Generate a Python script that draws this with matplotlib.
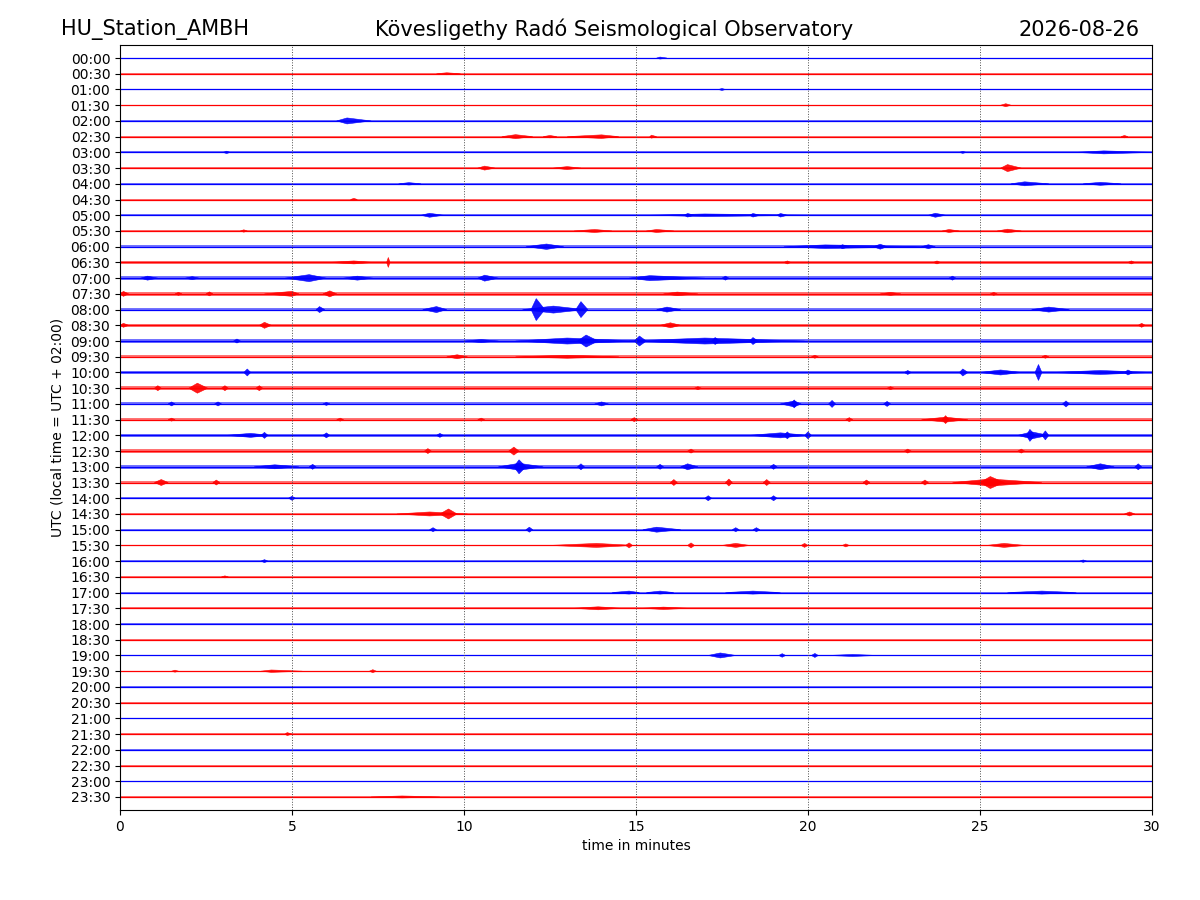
import numpy as np
import matplotlib
matplotlib.use("Agg")
import matplotlib.pyplot as plt

# half-hour rows of the helicorder, 00:00 .. 23:30 UTC
row_labels = ["%02d:%02d" % (h, m) for h in range(24) for m in (0, 30)]
row_colors = ["blue", "red"]

# background noise level per row (half amplitude, arbitrary units)
noise = [0.5, 0.5, 0.8, 0.6, 0.6, 0.8, 1.0, 1.0, 0.8, 0.8, 1.2, 1.2,
         1.5, 1.2, 1.8, 1.8, 1.8, 1.5, 1.8, 1.5, 1.5, 2.0, 1.5, 1.5,
         1.8, 1.8, 1.8, 1.8, 1.2, 1.0, 1.0, 0.8, 0.8, 1.0, 0.8, 0.8,
         0.6, 1.0, 0.6, 0.6, 0.8, 1.0, 0.6, 0.6, 0.8, 1.0, 0.6, 0.6]

# bursts: (row, start min, peak min, end min, half amplitude)
events = [
    (0, 15.6, 15.7, 15.9, 1.0),
    (1, 9.2, 9.5, 9.9, 1.0),
    (2, 17.4, 17.5, 17.6, 1.0),
    (3, 25.6, 25.75, 25.9, 1.5),
    (4, 6.3, 6.6, 7.3, 3.0),
    (5, 11.1, 11.5, 12.0, 2.0), (5, 12.3, 12.5, 12.7, 1.2), (5, 13.0, 14.0, 14.5, 1.8),
    (5, 15.4, 15.45, 15.6, 1.5), (5, 29.1, 29.2, 29.3, 1.2),
    (6, 3.0, 3.1, 3.2, 1.2), (6, 24.4, 24.5, 24.6, 1.0), (6, 27.8, 28.6, 30.0, 1.5),
    (7, 10.4, 10.6, 10.9, 2.0), (7, 12.6, 13.0, 13.4, 1.5), (7, 25.6, 25.8, 26.2, 3.5),
    (8, 8.1, 8.4, 8.75, 1.2), (8, 25.9, 26.3, 27.0, 2.0), (8, 28.0, 28.5, 29.1, 1.5),
    (9, 6.7, 6.8, 6.9, 1.2),
    (10, 8.75, 9.0, 9.4, 2.0), (10, 15.4, 17.0, 20.0, 1.3), (10, 16.4, 16.5, 16.7, 1.8),
    (10, 18.3, 18.4, 18.6, 1.8), (10, 19.1, 19.2, 19.4, 1.8), (10, 23.5, 23.7, 24.0, 2.0),
    (11, 3.5, 3.6, 3.7, 1.2), (11, 13.2, 13.8, 14.3, 1.5), (11, 15.3, 15.6, 16.1, 1.5),
    (11, 23.9, 24.1, 24.4, 1.5), (11, 25.5, 25.8, 26.2, 1.8),
    (12, 11.8, 12.4, 12.9, 2.7), (12, 19.3, 20.5, 23.5, 1.8), (12, 20.9, 21.0, 21.2, 2.0),
    (12, 21.9, 22.1, 22.3, 2.5), (12, 23.3, 23.5, 23.7, 2.0),
    (13, 6.1, 6.8, 7.35, 1.5), (13, 7.75, 7.8, 7.85, 5.0), (13, 19.3, 19.4, 19.5, 1.5),
    (13, 23.65, 23.75, 23.85, 1.5), (13, 29.3, 29.4, 29.5, 1.5),
    (14, 0.6, 0.8, 1.1, 2.0), (14, 1.9, 2.1, 2.3, 1.5), (14, 4.8, 5.5, 6.0, 3.5),
    (14, 6.5, 6.9, 7.35, 2.0), (14, 10.4, 10.6, 11.0, 3.0), (14, 14.8, 15.4, 17.0, 2.5),
    (14, 17.5, 17.6, 17.7, 2.0), (14, 24.1, 24.2, 24.3, 2.0),
    (15, 0.0, 0.1, 0.25, 2.5), (15, 1.6, 1.7, 1.8, 1.5), (15, 2.5, 2.6, 2.7, 2.0),
    (15, 4.2, 5.0, 5.2, 2.5), (15, 5.9, 6.1, 6.3, 3.0), (15, 15.8, 16.2, 16.8, 1.8),
    (15, 22.1, 22.4, 22.7, 1.5), (15, 25.3, 25.4, 25.5, 1.5),
    (16, 5.7, 5.8, 5.95, 3.0), (16, 8.8, 9.2, 9.5, 3.0), (16, 11.7, 12.6, 13.5, 3.5),
    (16, 11.95, 12.1, 12.35, 11.0), (16, 13.25, 13.4, 13.6, 8.0), (16, 15.6, 15.9, 16.3, 2.5),
    (16, 26.5, 27.0, 27.6, 2.5),
    (17, 0.0, 0.1, 0.25, 2.0), (17, 4.05, 4.2, 4.4, 3.0), (17, 15.7, 16.0, 16.3, 2.5),
    (17, 29.6, 29.7, 29.8, 2.0),
    (18, 3.3, 3.4, 3.5, 2.0), (18, 10.0, 10.5, 11.0, 1.5), (18, 11.5, 13.0, 15.1, 3.0),
    (18, 13.3, 13.55, 13.9, 6.0), (18, 14.8, 17.0, 19.9, 3.0), (18, 14.95, 15.1, 15.3, 5.0),
    (18, 17.2, 17.3, 17.45, 3.5), (18, 18.3, 18.4, 18.55, 3.5),
    (19, 9.5, 9.8, 10.1, 2.0), (19, 11.5, 13.0, 14.5, 1.5), (19, 20.1, 20.2, 20.3, 1.5),
    (19, 26.8, 26.9, 27.0, 1.5),
    (20, 3.6, 3.7, 3.8, 3.5), (20, 22.8, 22.9, 23.0, 2.0), (20, 24.4, 24.5, 24.65, 3.5),
    (20, 25.0, 25.6, 26.2, 2.5), (20, 26.6, 26.7, 26.8, 8.0), (20, 27.1, 28.5, 30.0, 2.0),
    (20, 29.2, 29.3, 29.45, 2.5),
    (21, 1.0, 1.1, 1.2, 2.5), (21, 2.0, 2.25, 2.55, 5.0), (21, 2.95, 3.05, 3.15, 2.5),
    (21, 3.95, 4.05, 4.15, 2.5), (21, 16.7, 16.8, 16.9, 1.5), (21, 22.3, 22.4, 22.5, 1.5),
    (22, 1.4, 1.5, 1.6, 2.0), (22, 2.75, 2.85, 2.95, 2.0), (22, 5.9, 6.0, 6.1, 1.5),
    (22, 13.8, 14.0, 14.2, 2.0), (22, 19.2, 19.6, 19.8, 3.0), (22, 19.5, 19.6, 19.7, 4.0),
    (22, 20.6, 20.7, 20.8, 3.5), (22, 22.2, 22.3, 22.4, 2.5), (22, 27.4, 27.5, 27.6, 3.0),
    (23, 1.4, 1.5, 1.6, 1.5), (23, 6.3, 6.4, 6.5, 1.5), (23, 10.4, 10.5, 10.6, 1.5),
    (23, 14.85, 14.95, 15.05, 2.0), (23, 21.1, 21.2, 21.3, 2.0), (23, 23.3, 24.0, 24.65, 2.5),
    (23, 23.9, 24.0, 24.1, 4.0),
    (24, 3.1, 3.8, 4.35, 2.0), (24, 4.1, 4.2, 4.3, 3.0), (24, 5.9, 6.0, 6.1, 2.5),
    (24, 9.2, 9.3, 9.4, 2.0), (24, 18.3, 19.2, 20.0, 2.5), (24, 19.3, 19.4, 19.5, 3.5),
    (24, 19.9, 20.0, 20.1, 3.5), (24, 26.1, 26.5, 27.0, 3.5), (24, 26.35, 26.45, 26.6, 6.0),
    (24, 26.8, 26.9, 27.0, 4.5),
    (25, 8.85, 8.95, 9.05, 2.5), (25, 11.3, 11.45, 11.6, 4.0), (25, 16.5, 16.6, 16.7, 2.0),
    (25, 22.8, 22.9, 23.0, 2.0), (25, 26.1, 26.2, 26.3, 2.0),
    (26, 3.9, 4.5, 5.2, 2.0), (26, 5.5, 5.6, 5.7, 2.5), (26, 11.0, 11.6, 12.3, 3.5),
    (26, 11.45, 11.6, 11.8, 7.0), (26, 13.3, 13.4, 13.5, 3.0), (26, 15.6, 15.7, 15.8, 2.5),
    (26, 16.3, 16.5, 16.8, 3.0), (26, 18.9, 19.0, 19.1, 2.5), (26, 28.1, 28.5, 28.9, 3.0),
    (26, 29.5, 29.6, 29.7, 3.0),
    (27, 1.0, 1.2, 1.4, 3.0), (27, 2.7, 2.8, 2.9, 2.5), (27, 16.0, 16.1, 16.2, 3.0),
    (27, 17.6, 17.7, 17.8, 3.5), (27, 18.7, 18.8, 18.9, 3.0), (27, 21.6, 21.7, 21.8, 2.5),
    (27, 23.3, 23.4, 23.5, 2.5), (27, 24.2, 25.3, 26.8, 3.5), (27, 25.0, 25.3, 25.7, 6.0),
    (28, 4.9, 5.0, 5.1, 2.0), (28, 17.0, 17.1, 17.2, 2.5), (28, 18.9, 19.0, 19.1, 2.5),
    (29, 8.05, 9.0, 10.1, 2.0), (29, 9.3, 9.55, 9.8, 5.0), (29, 29.2, 29.35, 29.5, 2.0),
    (30, 9.0, 9.1, 9.2, 2.0), (30, 11.8, 11.9, 12.0, 2.5), (30, 15.2, 15.6, 16.3, 2.5),
    (30, 17.8, 17.9, 18.0, 2.0), (30, 18.4, 18.5, 18.6, 2.0),
    (31, 12.5, 13.85, 14.95, 2.0), (31, 14.7, 14.8, 14.9, 2.5), (31, 16.5, 16.6, 16.7, 2.5),
    (31, 17.5, 17.9, 18.3, 2.0), (31, 19.8, 19.9, 20.0, 2.0), (31, 21.0, 21.1, 21.2, 1.5),
    (31, 25.2, 25.7, 26.3, 2.0),
    (32, 4.1, 4.2, 4.3, 1.5), (32, 27.9, 28.0, 28.1, 1.2),
    (33, 2.95, 3.05, 3.15, 1.0),
    (34, 14.3, 14.8, 15.1, 1.5), (34, 15.3, 15.7, 16.1, 1.5), (34, 17.6, 18.4, 19.2, 1.5),
    (34, 25.8, 26.8, 27.8, 1.5),
    (35, 13.2, 13.9, 14.55, 1.5), (35, 15.2, 15.8, 16.5, 1.2),
    (38, 17.1, 17.45, 17.9, 2.5), (38, 19.15, 19.25, 19.35, 1.8), (38, 20.1, 20.2, 20.3, 2.0),
    (38, 20.6, 21.3, 22.0, 1.0),
    (39, 1.5, 1.6, 1.7, 1.0), (39, 4.1, 4.4, 5.3, 1.2), (39, 7.25, 7.35, 7.45, 1.5),
    (43, 4.8, 4.86, 5.0, 1.5),
    (47, 7.3, 8.2, 9.3, 1.0),
]

amp_scale = 15.72  # amplitude units per row spacing

fig = plt.figure(figsize=(12, 9), dpi=100)
ax = fig.add_axes([0.1, 0.1, 0.86, 0.85])

for i, lab in enumerate(row_labels):
    col = row_colors[i % 2]
    b = noise[i] / amp_scale
    ax.fill_between([0, 30], i - b, i + b, color=col, alpha=0.55, lw=0)
    ax.plot([0, 30], [i, i], color=col, lw=0.9)

for row, t0, tp, t1, a in events:
    col = row_colors[row % 2]
    h = a / amp_scale
    ax.fill([t0, tp, t1, tp], [row, row - h, row, row + h], color=col, lw=0.4,
            ec=col, alpha=0.9)

ax.set_xlim(0, 30)
ax.set_ylim(len(row_labels) - 1 + 0.83, -0.83)
ax.set_yticks(range(len(row_labels)))
ax.set_yticklabels(row_labels)
ax.set_xticks([0, 5, 10, 15, 20, 25, 30])
for xv in [5, 10, 15, 20, 25]:
    ax.axvline(xv, color="0.3", ls=":", lw=0.7)
ax.set_xlabel("time in minutes")
ax.set_ylabel("UTC (local time = UTC + 02:00)")

fig.text(0.051, 0.967, "HU_Station_AMBH", fontsize=15, ha="left", va="center")
fig.text(0.512, 0.967, "Kövesligethy Radó Seismological Observatory",
         fontsize=15, ha="center", va="center")
fig.text(0.95, 0.967, "2026-08-26", fontsize=15, ha="right", va="center")

fig.savefig("out.png", dpi=100)
